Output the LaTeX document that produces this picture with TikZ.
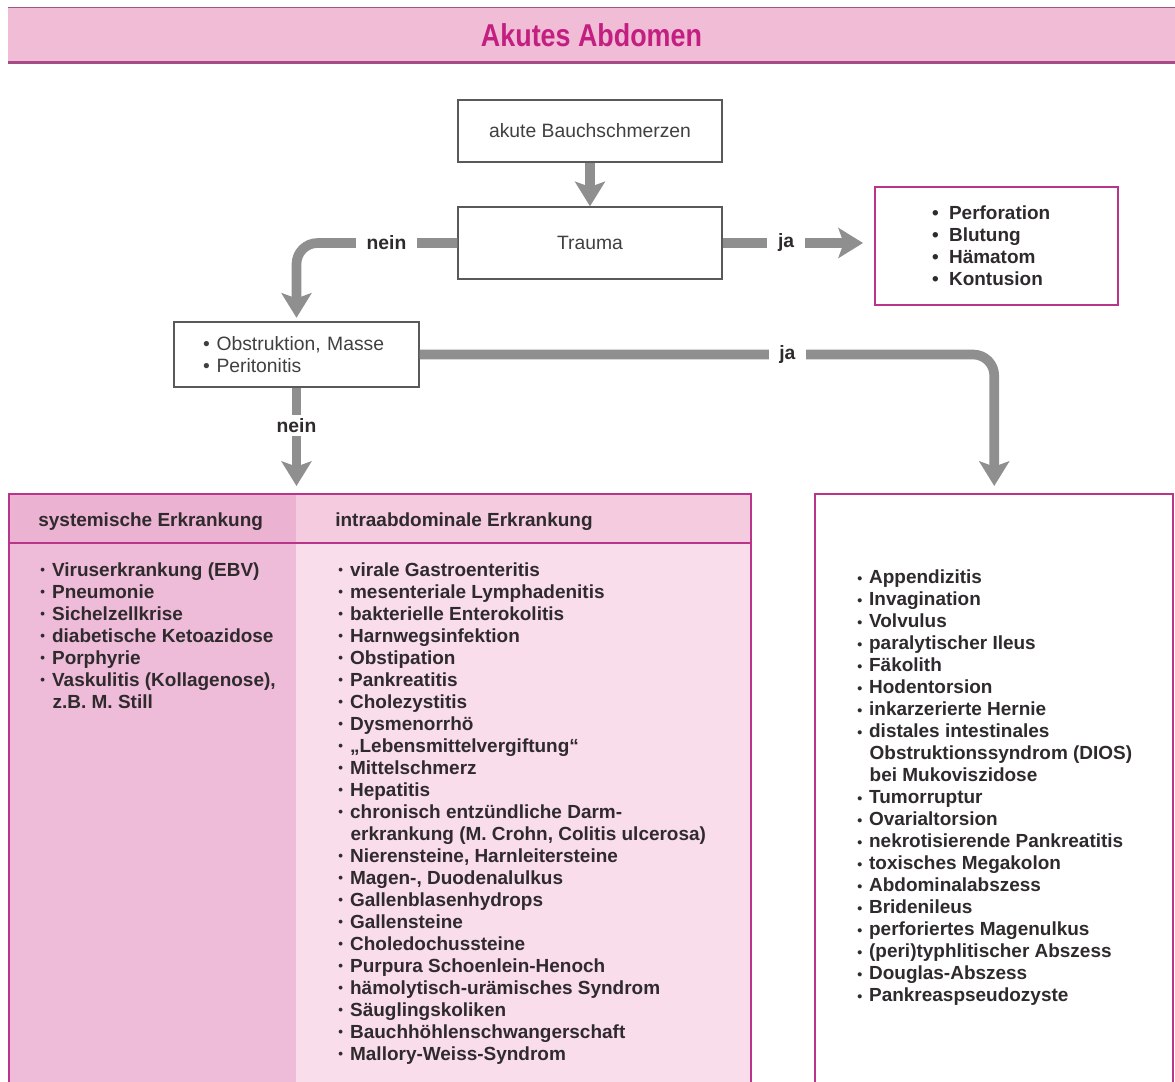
\documentclass[tikz,border=0pt]{standalone}
\usepackage{fontspec}
\setmainfont{Liberation Sans}
\usetikzlibrary{arrows.meta, positioning, calc}
\definecolor{mMagenta}{HTML}{B8358A}
\definecolor{mTitle}{HTML}{C21F80}
\definecolor{mBand}{HTML}{F0BCD6}
\definecolor{mLeft}{HTML}{EEBCD8}
\definecolor{mLeftHead}{HTML}{EBB2D1}
\definecolor{mMid}{HTML}{F9DDEA}
\definecolor{mMidHead}{HTML}{F4CBDF}
\definecolor{mArrow}{HTML}{8F8F8F}
\definecolor{mText}{HTML}{2F2A2D}
\newdimen\pxu \pxu=0.02cm
\newcommand{\bu}{\makebox[0.62em][l]{\raisebox{0.15ex}{\scalebox{0.7}{\textbullet}}}}
\newcommand{\rb}{\makebox[0.62em][l]{\scalebox{0.75}{\textbullet}}}
\newcommand{\ind}{\hspace*{0.65em}}

\begin{document}
\begin{tikzpicture}[x=0.02cm, y=-0.02cm,
    box/.style={rectangle, draw=black!65, fill=white, line width=0.8pt, font=\fontsize{11}{12.5}\selectfont, text=black!75},
    hbox/.style={rectangle, draw=mMagenta, fill=white, line width=1.6pt, align=left, font=\fontsize{10.8}{12.5}\selectfont\bfseries, text=mText},
    panel/.style={rectangle, draw=mMagenta, line width=1.4pt},
    item/.style={anchor=base west, inner sep=0pt, font=\fontsize{10.8}{12.5}\selectfont\bfseries, text=mText},
    lab/.style={fill=white, sharp corners, font=\fontsize{11}{13}\selectfont\bfseries, text=mText, inner xsep=6pt, inner ysep=2pt},
    arrow/.style={line width=5.5pt, mArrow, rounded corners=12pt, -{Stealth[length=14pt, width=17pt, inset=3pt]}}
]
    \useasboundingbox (0,0) rectangle (1175,1081);
    \clip (0,0) rectangle (1175,1081);

    % title band
    \node[fill=mBand, minimum width=1167\pxu, minimum height=54\pxu, inner sep=0pt, font=\fontsize{18}{20}\selectfont\bfseries, text=mTitle] (title) at (591.5,35) {\scalebox{0.85}[1]{Akutes Abdomen}};
    \draw[mMagenta!55!gray, line width=0.8pt] (title.north west) -- (title.north east);
    \draw[mMagenta!70!gray, line width=1.6pt] (title.south west) -- (title.south east);

    % decision boxes
    \node[box, minimum width=264\pxu, minimum height=62\pxu] (pain) at (590,131) {akute Bauchschmerzen};
    \node[box, minimum width=264\pxu, minimum height=72\pxu] (trauma) at (590,243) {Trauma};
    \node[hbox, text width=129\pxu, inner xsep=57\pxu, minimum height=118\pxu] (injury) at (996.5,246)
        {\makebox[0.9em][l]{\textbullet}Perforation\\ \makebox[0.9em][l]{\textbullet}Blutung\\ \makebox[0.9em][l]{\textbullet}Hämatom\\ \makebox[0.9em][l]{\textbullet}Kontusion};
    \node[box, align=left, text width=187\pxu, inner xsep=29\pxu, minimum height=65\pxu] (mass) at (296.5,354.5)
        {\makebox[0.7em][l]{\textbullet}Obstruktion, Masse\\ \makebox[0.7em][l]{\textbullet}Peritonitis};

    % lower panels
    \fill[mLeft] (8,493) rectangle (296,1090);
    \fill[mMid] (296,493) rectangle (750,1090);
    \fill[mLeftHead] (8,493) rectangle (296,543);
    \fill[mMidHead] (296,493) rectangle (750,543);
    \node[panel, anchor=north west, minimum width=742\pxu, minimum height=600\pxu] (lpanel) at (8,493) {};
    \draw[mMagenta, line width=1.4pt] (lpanel.west |- 0,543) -- (lpanel.east |- 0,543);
    \node[panel, fill=white, anchor=north west, minimum width=358\pxu, minimum height=600\pxu] (rpanel) at (814,493) {};

    \node[item] (syshead) at (38,526) {systemische Erkrankung};
    \node[item] (intrahead) at (335,526) {intraabdominale Erkrankung};

    \foreach \txt [count=\k from 0] in {\bu Viruserkrankung (EBV), \bu Pneumonie, \bu Sichelzellkrise,
        \bu diabetische Ketoazidose, \bu Porphyrie, {\bu Vaskulitis (Kollagenose),}, \ind z.B. M. Still}
        \node[item] (sys\k) at (40,576+22*\k) {\txt};

    \foreach \txt [count=\k from 0] in {\bu virale Gastroenteritis, \bu mesenteriale Lymphadenitis,
        \bu bakterielle Enterokolitis, \bu Harnwegsinfektion, \bu Obstipation, \bu Pankreatitis,
        \bu Cholezystitis, \bu Dysmenorrhö, \bu „Lebensmittelvergiftung“, \bu Mittelschmerz,
        \bu Hepatitis, \bu chronisch entzündliche Darm-, {\ind erkrankung (M. Crohn, Colitis ulcerosa)},
        {\bu Nierensteine, Harnleitersteine}, {\bu Magen-, Duodenalulkus}, \bu Gallenblasenhydrops,
        \bu Gallensteine, \bu Choledochussteine, \bu Purpura Schoenlein-Henoch,
        \bu hämolytisch-urämisches Syndrom, \bu Säuglingskoliken, \bu Bauchhöhlenschwangerschaft,
        \bu Mallory-Weiss-Syndrom}
        \node[item] (intra\k) at (338,576+22*\k) {\txt};

    \foreach \txt [count=\k from 0] in {\rb Appendizitis, \rb Invagination, \rb Volvulus,
        \rb paralytischer Ileus, \rb Fäkolith, \rb Hodentorsion, \rb inkarzerierte Hernie,
        \rb distales intestinales, \ind Obstruktionssyndrom (DIOS), \ind bei Mukoviszidose,
        \rb Tumorruptur, \rb Ovarialtorsion, \rb nekrotisierende Pankreatitis, \rb toxisches Megakolon,
        \rb Abdominalabszess, \rb Bridenileus, \rb perforiertes Magenulkus,
        \rb (peri)typhlitischer Abszess, \rb Douglas-Abszess, \rb Pankreaspseudozyste}
        \node[item] (surg\k) at (857,583+22.05*\k) {\txt};

    % connectors
    \draw[arrow] (pain.south) -- (trauma.north);
    \draw[arrow, shorten >=2pt] (trauma.west) -| node[lab, pos=0.22] (no1) {nein} (mass.north);
    \draw[arrow, shorten >=6pt] (trauma.east) -- node[lab, pos=0.42] (yes1) {ja} (trauma.east -| injury.west);
    \draw[arrow, shorten >=4pt] (mass.east) -| node[lab, pos=0.32] (yes2) {ja} (rpanel.north);
    \draw[arrow, shorten >=4pt] (mass.south) -- node[lab, pos=0.36] (no2) {nein} (mass.south |- lpanel.north);
\end{tikzpicture}
\end{document}
